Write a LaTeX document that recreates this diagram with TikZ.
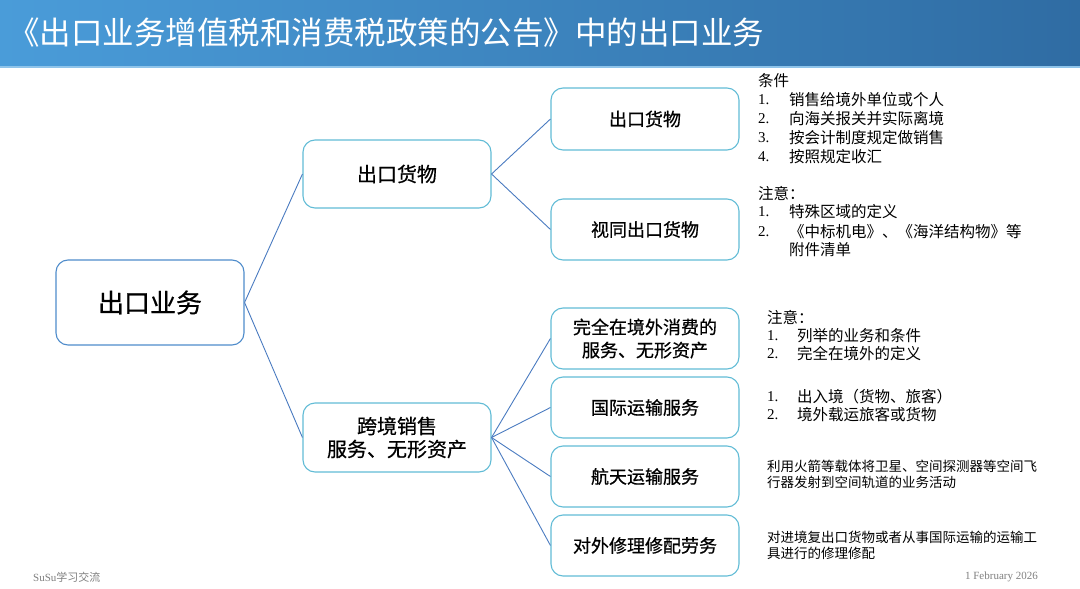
\documentclass[tikz,border=0pt]{standalone}
\usepackage{fontspec}
\setmainfont{Liberation Serif}
\newfontfamily\cjk{Noto Sans CJK SC}
\newfontfamily\cjkbox[FakeBold=0.6]{Noto Sans CJK SC}
\definecolor{hdrL}{HTML}{4A9CD9}
\definecolor{hdrR}{HTML}{2F6CA3}
\definecolor{hdrLine}{HTML}{8FC4EA}
\definecolor{boxc}{HTML}{62BCD6}
\definecolor{rootc}{HTML}{4F8CCB}
\definecolor{linkc}{HTML}{4A7BC0}
\definecolor{footc}{HTML}{7F7F7F}
\tikzset{
  box/.style={draw=boxc, line width=1.1pt, rounded corners=12pt, fill=white,
    minimum width=188pt, minimum height=61pt, align=center, inner sep=2pt,
    font=\cjkbox\fontsize{18}{23}\selectfont},
  rootbox/.style={box, draw=rootc, minimum height=85pt, font=\cjkbox\fontsize{26}{30}\selectfont},
  lonebox/.style={box, minimum height=68pt, font=\cjkbox\fontsize{20}{23}\selectfont},
  link/.style={draw=linkc, line width=0.9pt},
  num/.style={anchor=west, inner sep=0pt, font=\fontsize{15}{18}\selectfont},
  note/.style={anchor=west, inner sep=0pt, font=\cjk\fontsize{15.5}{18}\selectfont},
  small/.style={anchor=west, inner sep=0pt, font=\cjk\fontsize{13.5}{16}\selectfont},
  foot/.style={inner sep=0pt, text=footc}
}
\begin{document}
\begin{tikzpicture}[x=1pt,y=-1pt]
\useasboundingbox (0,0) rectangle (1080,589);
% header
\shade[left color=hdrL, right color=hdrR] (0,0) rectangle (1080,66);
\fill[hdrLine] (0,66) rectangle (1080,68);
\node[anchor=west, inner sep=0pt, text=white, font=\cjk\fontsize{31.5}{34}\selectfont] (title) at (8,33) {《出口业务增值税和消费税政策的公告》中的出口业务};
% nodes
\node[rootbox] (root) at (150,302.5) {出口业务};
\node[lonebox] (goods) at (397,174) {出口货物};
\node[lonebox, minimum height=69pt] (cross) at (397,437.5) {跨境销售\\服务、无形资产};
\node[box, minimum height=62pt] (g1) at (645,119) {出口货物};
\node[box] (g2) at (645,229.5) {视同出口货物};
\node[box] (s1) at (645,338.5) {完全在境外消费的\\服务、无形资产};
\node[box] (s2) at (645,407.5) {国际运输服务};
\node[box] (s3) at (645,476.5) {航天运输服务};
\node[box] (s4) at (645,545.5) {对外修理修配劳务};
% links
\draw[link] (root.east) -- (goods.west);
\draw[link] (root.east) -- (cross.west);
\draw[link] (goods.east) -- (g1.west);
\draw[link] (goods.east) -- (g2.west);
\foreach \t in {s1,s2,s3,s4} \draw[link] (cross.east) -- (\t.west);
% notes block 1
\node[note] (n1h) at (758,81) {条件};
\node[num] (n1a) at (758,99.5) {1.};   \node[note] (n1at) at (789,99.5) {销售给境外单位或个人};
\node[num] (n1b) at (758,118.5) {2.};  \node[note] (n1bt) at (789,118.5) {向海关报关并实际离境};
\node[num] (n1c) at (758,137.5) {3.};  \node[note] (n1ct) at (789,137.5) {按会计制度规定做销售};
\node[num] (n1d) at (758,156.5) {4.};  \node[note] (n1dt) at (789,156.5) {按照规定收汇};
% notes block 2
\node[note] (n2h) at (758,193) {注意：};
\node[num] (n2a) at (758,212) {1.};  \node[note] (n2at) at (789,212) {特殊区域的定义};
\node[num] (n2b) at (758,232) {2.};  \node[note] (n2bt) at (789,232) {《中标机电》、《海洋结构物》等};
\node[note] (n2ct) at (789,250) {附件清单};
% notes block 3
\node[note] (n3h) at (767,317) {注意：};
\node[num] (n3a) at (767,335.5) {1.};  \node[note] (n3at) at (797,335.5) {列举的业务和条件};
\node[num] (n3b) at (767,354) {2.};    \node[note] (n3bt) at (797,354) {完全在境外的定义};
% notes block 4
\node[num] (n4a) at (767,397) {1.};  \node[note] (n4at) at (797,397) {出入境（货物、旅客）};
\node[num] (n4b) at (767,414.5) {2.};  \node[note] (n4bt) at (797,414.5) {境外载运旅客或货物};
% notes block 5, 6
\node[small] (n5a) at (767,466) {利用火箭等载体将卫星、空间探测器等空间飞};
\node[small] (n5b) at (767,482.5) {行器发射到空间轨道的业务活动};
\node[small] (n6a) at (767,537) {对进境复出口货物或者从事国际运输的运输工};
\node[small] (n6b) at (767,553.5) {具进行的修理修配};
% footer
\node[foot, anchor=west, font=\fontsize{11}{13}\selectfont] (fl) at (33,577) {SuSu{\cjk 学习交流}};
\node[foot, anchor=east, font=\fontsize{11}{13}\selectfont] (fr) at (1038,577) {1 February 2026};
\end{tikzpicture}
\end{document}
